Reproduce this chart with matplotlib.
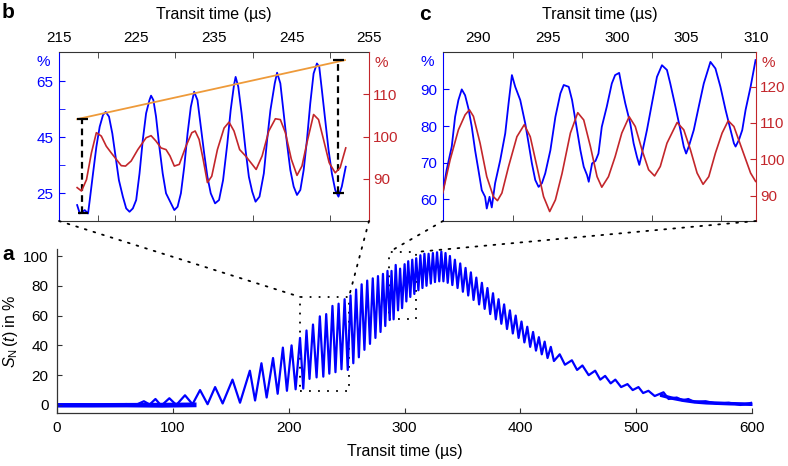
import matplotlib
matplotlib.use('Agg')
import matplotlib.pyplot as plt
from matplotlib.patches import Rectangle, ConnectionPatch

plt.rcParams['font.family'] = ['Liberation Sans', 'DejaVu Sans']
plt.rcParams['mathtext.fontset'] = 'custom'
plt.rcParams['mathtext.rm'] = 'Liberation Sans'
plt.rcParams['mathtext.it'] = 'Liberation Sans:italic'

BLUE = '#0000ff'
RED = '#c3262b'
ORANGE = '#ee9a3a'
DOTS = (0, (1, 4))

# ---- panel a: full signal, peaks and troughs
a_time = [0, 20, 40, 60, 68, 75, 80, 85, 90, 97, 103, 110.5, 117, 123.5, 130, 136.5,
          143, 151.5, 158, 166.5, 171, 176.5, 181, 186.5, 190.5, 195, 198.5, 202.5,
          206, 209.8, 212.6, 215.4, 218.0, 221.0, 224.1, 226.9, 229.9, 232.4, 235.1,
          237.8, 240.4, 243.1, 245.6, 248.3, 251.0, 253.4, 255.8, 258.2, 260.6, 263.0,
          265.4, 267.8, 270.2, 272.6, 274.9, 277.1, 279.3, 281.4, 283.4, 285.3, 287.2,
          288.8, 290.6, 292.4, 294.4, 296.2, 297.9, 300.1, 301.6, 303.2, 305.0, 306.7,
          308.5, 310.1, 312.0, 313.7, 315.5, 317.2, 319.0, 320.8, 322.7, 324.5, 326.3,
          328.1, 330.0, 331.8, 333.6, 335.4, 337.3, 339.2, 341.3, 343.5, 345.8, 348.1,
          350.4, 352.7, 355.0, 357.3, 359.6, 362.0, 364.4, 366.8, 369.2, 371.6, 374.0,
          376.4, 378.8, 381.2, 383.6, 386.0, 388.5, 391.0, 393.5, 396.0, 398.5, 401.0,
          403.5, 406.0, 408.5, 411.0, 413.5, 416.0, 418.5, 421.0, 423.5, 426.3, 429.0,
          434.0, 438.5, 444.5, 449.0, 453.6, 459.0, 464.6, 469.0, 473.2, 478.0, 482.0,
          487.0, 492.5, 497.0, 502.0, 506.0, 510.6, 516.0, 523.6, 528.0, 535.0, 540.0,
          545.0, 550.0, 560.0, 570.0, 580.0, 590.0, 600.0]
a_signal = [0.3, 0.5, 0.2, 0.6, 0, 2.5, 0.3, 4, -0.5, 4.5, 0, 6.5, 0.5, 10, 0.5, 12,
            1, 17, 1.5, 23, 3, 28, 5, 31.5, 7.5, 38.5, 9.5, 40,
            10.5, 45, 11, 50, 17.5, 54, 18.5, 59.5, 19, 61, 21,
            66.5, 22, 68, 24, 71, 23.5, 73.5, 28, 77.5, 32, 81,
            37, 83.5, 41, 85, 45, 86.5, 49, 88, 53, 90, 57,
            90, 57.5, 94, 63.5, 91.5, 65, 94.5, 69.5, 96.5, 72.5, 97.5,
            74.5, 98.5, 77, 100.5, 78.5, 101.5, 80, 101.5, 81.5, 102, 82.5,
            102.5, 83, 103, 83, 102, 82, 100, 80.5, 97.5, 78.5, 95,
            76, 92, 73.5, 89, 70.5, 85.5, 67.5, 82, 64.5, 78.5, 61,
            75, 57.5, 71, 54.5, 67.5, 51, 63.5, 48, 60, 45, 56,
            42, 52.5, 39, 49, 36.5, 45.5, 34, 42.5, 31.5, 39, 29.5,
            34, 27, 30, 23.5, 26.5, 20, 23, 17, 19.5, 14.5, 17,
            12, 14, 10, 12, 8, 9.5, 6, 8.5, 4, 5, 3,
            4, 2, 2.5, 0.8, 1.5, 0, 1.5]

# noise band around the flat start of the signal
noise_time = [0, 30, 60, 90, 120]
noise_low = [-1.4, -1.4, -1.3, -1.5, -1.2]
noise_high = [1.6, 1.6, 1.7, 1.8, 2.0]
# noise band around the flat end of the tail
tail_time = [520, 530, 540, 550, 560, 580, 600]
tail_low = [5.8, 3.8, 2.3, 1.2, 0.6, 0.0, -0.4]
tail_high = [8.2, 6.2, 4.7, 3.6, 3.0, 2.4, 2.0]

# zoom windows drawn in panel a
zoom_b_time = [210, 252]
zoom_b_level = [9.4, 72.5]
zoom_c_time = [286.7, 310]
zoom_c_level = [57.7, 102.7]

# ---- panel b
b_time = [217.34, 217.68, 218.32, 218.75, 218.97, 219.39, 219.82, 220.25, 220.68, 221.02,
          221.45, 221.88, 222.30, 222.73, 223.24, 223.67, 224.10, 224.53, 224.96, 225.39,
          225.81, 226.24, 226.67, 226.88, 227.18, 227.52, 227.95, 228.38, 228.81, 229.45,
          229.88, 230.30, 230.73, 231.16, 231.59, 232.01, 232.44, 232.87, 233.30, 233.73,
          234.15, 234.58, 235.14, 235.65, 236.17, 236.72, 237.15, 237.58, 237.79, 238.13,
          238.56, 239.07, 239.50, 239.93, 240.36, 240.87, 241.43, 241.85, 242.28, 242.84,
          243.14, 243.56, 243.99, 244.42, 244.85, 245.28, 245.71, 246.14, 246.57, 246.99,
          247.42, 247.85, 248.28, 248.58, 248.92, 249.35, 249.78, 250.21, 250.64, 251.06,
          251.49, 252.00]
b_blue = [20.7, 17.7, 18.9, 17.7, 22.5, 32.0, 41.5, 48.7, 52.9, 54.0,
          52.3, 46.3, 38.0, 29.6, 23.7, 19.5, 18.3, 19.5, 22.5, 32.0,
          43.9, 53.5, 58.2, 59.8, 58.2, 52.3, 41.5, 32.0, 24.9, 21.3,
          18.9, 20.1, 24.9, 34.4, 46.3, 55.8, 61.2, 58.2, 48.7, 39.2,
          30.8, 24.9, 21.3, 22.5, 29.6, 42.7, 54.6, 63.6, 66.5, 63.0,
          53.5, 40.4, 30.8, 25.5, 21.9, 23.7, 32.0, 43.9, 54.6, 64.2,
          68.0, 64.2, 53.5, 42.7, 33.2, 27.3, 24.3, 26.1, 33.2, 43.9,
          57.0, 67.7, 71.3, 70.1, 61.8, 51.1, 40.4, 32.0, 26.1, 23.7,
          27.3, 34.4]
b_red_time = [217.34, 217.90, 218.55, 219.18, 219.82, 220.46, 221.10, 221.75, 222.39, 223.03,
              223.58, 224.31, 225.17, 226.24, 226.88, 227.52, 228.16, 228.81, 229.32, 229.88,
              230.52, 231.38, 232.14, 232.57, 233.08, 233.60, 234.15, 234.71, 235.44, 236.30,
              236.94, 237.58, 238.31, 239.07, 239.93, 240.44, 241.21, 242.07, 242.92, 243.56,
              244.21, 244.98, 245.71, 246.35, 246.99, 247.85, 248.49, 249.13, 249.86, 250.64,
              251.27, 252.00]
b_red = [87.9, 87.1, 89.8, 96.1, 100.9, 100.1, 97.7, 96.1, 94.6, 93.1,
         93.0, 94.2, 96.9, 99.7, 100.2, 98.9, 97.3, 96.9, 95.4, 93.0,
         93.4, 97.7, 100.9, 101.3, 99.3, 94.6, 89.1, 90.6, 96.9, 102.0,
         103.4, 101.3, 96.9, 95.4, 93.4, 92.2, 95.4, 101.3, 104.2, 104.0,
         100.9, 94.6, 90.8, 93.0, 98.5, 105.2, 104.0, 99.3, 93.8, 91.4,
         92.6, 97.3]
# orange guide line and black dashed markers of panel b
guide_time = [217.34, 251.9]
guide_level = [51.4, 72.5]
marker_time = [218.0, 251.0]
marker_top = [51.4, 72.5]
marker_bottom = [17.7, 25.1]

# ---- panel c
c_time = [287.45, 287.73, 288.10, 288.34, 288.58, 288.82, 289.06, 289.30, 289.54, 289.78,
          290.02, 290.26, 290.50, 290.62, 290.82, 290.98, 291.22, 291.59, 291.95, 292.19,
          292.43, 292.67, 293.03, 293.39, 293.63, 293.87, 294.11, 294.35, 294.59, 294.83,
          295.20, 295.56, 295.92, 296.16, 296.52, 296.76, 297.12, 297.36, 297.60, 297.84,
          297.96, 298.20, 298.45, 298.66, 298.90, 299.26, 299.62, 299.86, 300.15, 300.34,
          300.59, 300.95, 301.19, 301.43, 301.60, 301.79, 302.15, 302.51, 302.87, 303.23,
          303.59, 303.83, 304.20, 304.56, 304.80, 304.97, 305.16, 305.52, 305.88, 306.24,
          306.72, 307.08, 307.44, 307.81, 308.17, 308.41, 308.53, 308.77, 309.01, 309.25,
          309.61, 309.97]
c_blue = [61.6, 68.0, 74.4, 82.5, 87.1, 90.0, 88.4, 84.8, 79.8, 73.4,
          68.0, 62.5, 60.7, 57.5, 60.7, 57.8, 64.4, 70.7, 78.0, 86.2,
          93.9, 90.7, 87.1, 80.7, 75.3, 69.8, 65.3, 63.4, 64.4, 67.1,
          73.4, 82.5, 88.9, 91.2, 90.7, 87.1, 78.9, 73.4, 68.9, 66.6,
          64.8, 69.8, 70.5, 72.5, 79.8, 85.3, 91.6, 93.9, 94.5, 90.7,
          86.2, 80.7, 75.3, 71.6, 69.4, 72.5, 78.9, 86.2, 93.4, 96.6,
          95.3, 91.6, 85.3, 78.9, 74.4, 72.5, 74.4, 78.9, 85.3, 91.6,
          97.5, 95.7, 90.7, 84.4, 78.9, 75.3, 74.4, 76.2, 78.9, 84.4,
          90.7, 98.0]
c_red_time = [287.45, 287.98, 288.58, 289.06, 289.37, 289.66, 290.14, 290.62, 291.10, 291.39,
              291.71, 292.19, 292.79, 293.32, 293.75, 294.23, 294.71, 295.15, 295.56, 296.04,
              296.64, 297.17, 297.60, 298.08, 298.56, 298.90, 299.38, 299.86, 300.34, 300.87,
              301.31, 301.79, 302.27, 302.70, 303.11, 303.59, 304.32, 304.80, 305.28, 305.76,
              306.19, 306.60, 307.08, 307.56, 308.00, 308.41, 309.01, 309.61, 309.97]
c_red = [90.7, 99.8, 108.1, 112.2, 113.6, 111.8, 104.4, 95.2, 89.7, 88.6,
         90.7, 98.0, 106.2, 109.5, 106.2, 98.0, 89.7, 85.6, 88.8, 96.1,
         107.2, 112.8, 110.8, 103.5, 95.2, 92.3, 95.2, 100.7, 107.2, 111.7,
         109.0, 102.6, 97.1, 95.4, 98.0, 104.4, 110.1, 108.1, 102.6, 96.2,
         93.1, 95.2, 101.7, 107.2, 110.6, 109.0, 102.6, 96.2, 93.9]

fig = plt.figure(figsize=(7.88, 4.66), dpi=100)
TICK = 11

# ---------------- panel a
ax_a = fig.add_axes([57 / 788, 53 / 466, 695 / 788, 164 / 466])
ax_a.fill_between(noise_time, noise_low, noise_high, color=BLUE, lw=0)
ax_a.fill_between(tail_time, tail_low, tail_high, color=BLUE, lw=0)
ax_a.plot(a_time, a_signal, color=BLUE, lw=1.6)
ax_a.set_xlim(0, 600)
ax_a.set_ylim(-5.4, 104.7)
ax_a.set_xticks([0, 100, 200, 300, 400, 500, 600])
ax_a.set_yticks([0, 20, 40, 60, 80, 100])
ax_a.tick_params(direction='in', length=3.5, labelsize=TICK, pad=6, color='#333333')
for s in ['top', 'right']:
    ax_a.spines[s].set_visible(False)
for s in ['left', 'bottom']:
    ax_a.spines[s].set_color('#333333')
    ax_a.spines[s].set_linewidth(0.9)
ax_a.set_xlabel('Transit time (µs)', fontsize=11.5, labelpad=6)
ax_a.set_ylabel(r'$S_{\mathrm{N}}\,(t)$ in %', fontsize=11.5, labelpad=2)

for tt, lv in [(zoom_b_time, zoom_b_level), (zoom_c_time, zoom_c_level)]:
    ax_a.add_patch(Rectangle((tt[0], lv[0]), tt[1] - tt[0], lv[1] - lv[0], fill=False,
                             ec='k', lw=1.3, ls=DOTS))


def style_inset(ax, ax2, major, minor, left_major, left_minor, right_ticks):
    ax.set_xticks(major)
    ax.set_xticks(minor, minor=True)
    ax.tick_params(axis='x', which='major', top=True, bottom=False, labeltop=True,
                   labelbottom=False, length=0, pad=5, labelsize=TICK)
    ax.tick_params(axis='x', which='minor', top=True, bottom=True, direction='in',
                   length=4, color='#333333')
    ax.set_yticks(left_major)
    ax.set_yticks(left_minor, minor=True)
    ax.tick_params(axis='y', which='both', direction='in', length=4, colors=BLUE,
                   labelsize=TICK, pad=4, right=False)
    ax2.set_yticks(right_ticks)
    ax2.tick_params(axis='y', direction='in', length=4, colors=RED, labelsize=TICK, pad=3)
    ax.spines['left'].set_color(BLUE)
    ax.spines['right'].set_visible(False)
    for s in ['top', 'bottom']:
        ax.spines[s].set_color('#333333')
        ax2.spines[s].set_visible(False)
    ax2.spines['left'].set_visible(False)
    ax2.spines['right'].set_color(RED)
    ax.xaxis.set_label_position('top')
    ax.set_xlabel('Transit time (µs)', fontsize=11.5, labelpad=9)
    ax.text(-0.05, 0.94, '%', transform=ax.transAxes, color=BLUE, fontsize=TICK,
            ha='center', va='center')
    ax.text(1.04, 0.935, '%', transform=ax.transAxes, color=RED, fontsize=TICK,
            ha='center', va='center')


# ---------------- panel b
ax_b = fig.add_axes([59 / 788, 245 / 466, 310 / 788, 169 / 466])
ax_b.plot(b_time, b_blue, color=BLUE, lw=1.3)
ax_b.plot(guide_time, guide_level, color=ORANGE, lw=1.3, zorder=3)
ax_b.vlines(marker_time, marker_bottom, marker_top, colors='k', lw=1.6,
            linestyles=(0, (3, 2)), zorder=4)
ax_b.hlines(marker_top, [t - 0.7 for t in marker_time], [t + 0.8 for t in marker_time],
            colors='k', lw=1.6, zorder=4)
ax_b.hlines(marker_bottom, [t - 0.6 for t in marker_time], [t + 0.8 for t in marker_time],
            colors='k', lw=1.6, zorder=4)
ax_b.set_xlim(215, 255)
ax_b.set_ylim(15, 75.4)
ax_b2 = ax_b.twinx()
ax_b2.plot(b_red_time, b_red, color=RED, lw=1.2)
ax_b2.set_ylim(80, 120)
style_inset(ax_b, ax_b2, [215, 225, 235, 245, 255], list(range(220, 251, 5)),
            [25, 45, 65], [35, 55], [90, 100, 110])

# ---------------- panel c
ax_c = fig.add_axes([443 / 788, 245 / 466, 313 / 788, 169 / 466])
ax_c.plot(c_time, c_blue, color=BLUE, lw=1.3)
ax_c.set_xlim(287.47, 310)
ax_c.set_ylim(54.1, 100.2)
ax_c2 = ax_c.twinx()
ax_c2.plot(c_red_time, c_red, color=RED, lw=1.2)
ax_c2.set_ylim(83.0, 129.5)
style_inset(ax_c, ax_c2, [290, 295, 300, 305, 310], [292.5, 297.5, 302.5, 307.5],
            [60, 70, 80, 90], [], [90, 100, 110, 120])

# dotted connectors from insets to zoom windows
for ax_in, tt, lv in [(ax_b, zoom_b_time, zoom_b_level), (ax_c, zoom_c_time, zoom_c_level)]:
    for corner, t in [((0, 0), tt[0]), ((1, 0), tt[1])]:
        con = ConnectionPatch(xyA=corner, coordsA=ax_in.transAxes, xyB=(t, lv[1]),
                              coordsB=ax_a.transData, color='k', lw=1.3, ls=DOTS)
        fig.add_artist(con)

fig.text(2 / 788, 1 - 13 / 466, 'b', fontsize=15, fontweight='bold', va='center')
fig.text(419 / 788, 1 - 14 / 466, 'c', fontsize=15, fontweight='bold', va='center')
fig.text(2 / 788, 1 - 254 / 466, 'a', fontsize=15, fontweight='bold', va='center')

fig.savefig('out.png', dpi=100)
